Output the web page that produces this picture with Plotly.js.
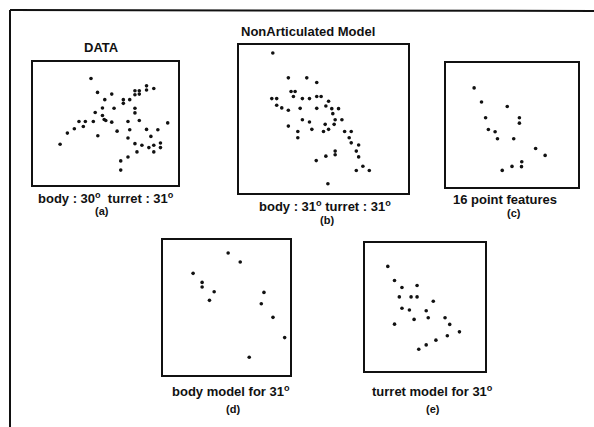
<!DOCTYPE html>
<html>
<head>
<meta charset="utf-8">
<script src="https://cdn.plot.ly/plotly-3.0.1.min.js"></script>
<style>html,body{margin:0;padding:0;background:#fff;}#chart{width:594px;height:427px;}</style>
</head>
<body>
<div id="chart"></div>
<script>
// Panel (a) DATA — positions in box units (0-100)
var aX = [40,44.5,54.3,49.5,62.3,66.7,62.3,70.3,73.3,70.3,73.3,78.3,78.3,83.3,47.9,42.9,55.9,70.3,70.3,47.9,49.1,50.2,31.7,36.1,41.6,54.3,65.5,73.3,92.9,28.5,34.7,23.7,58,66.7,78.3,86.1,44.7,65.5,81.3,18.7,70.3,75.1,79.9,83.3,87.9,87.9,83.3,71.7,65.5,60.5,60.5];
var aY = [86.6,75.3,73.9,69.4,69.4,69.4,66.4,76.6,76.6,73.4,73.9,80.6,77.2,78.5,62.6,58.9,62.4,62.4,58.6,56.5,53.2,52.4,51.6,51.6,51.6,51.1,51.6,52.4,50.5,45.7,47.6,42.2,43.8,44.9,45.2,44.9,40.1,38.2,39.5,33.1,33.6,32.3,30.4,32.3,34.1,30.4,26.9,26.9,22.8,19.6,12.1];
// Panel (b) NonArticulated Model
var bX = [20,29.2,40.1,46,30.8,33.2,32.2,19.4,22.3,37.5,41.7,46,48.6,53,22.3,25.3,29.2,36.2,46,51.4,54.9,58.9,55.5,37.5,41.7,56.9,60.9,56.3,29.2,51,43.1,53,50,34.8,62.5,66.4,34.8,65.2,66.4,70.8,69.4,56.9,56.9,51.4,70.8,45.7,73.3,69.4,77.1,52.6];
var bY = [94.6,77.8,77.8,74.7,68.6,68.6,65.2,63.8,63.8,63.8,63.8,65.2,65.2,62,59.3,57.5,55.9,57.2,57.2,58.8,57,57,53.6,49.5,48,49.5,49.5,46.4,45.2,46.4,43,43,41.6,41.6,41.6,41.6,37.3,37.3,33.9,32.4,28.3,28.3,25.8,24.9,24.4,21.9,18.1,15.2,15.2,6.3];
// Panel (c) 16 point features
var cX = [21.3,26.9,46.4,30,55.6,55.6,32.1,37.2,39,51.3,67.9,75.1,57.4,57.2,50,42.6];
var cY = [79.9,68.6,64.9,55.8,55.8,51.5,46.4,44.5,38.9,38.9,31.1,25.5,20.4,16.4,16.6,13.4];
// Panel (d) body model for 31°
var dX = [51.3,60.8,23.7,30.8,30.8,40.3,36.6,79.5,77.4,86.6,95.8,67.9];
var dY = [90.4,83.7,75.3,68.6,65.2,61.7,55.3,61.2,52.8,42.7,27.7,13.1];
// Panel (e) turret model for 31°
var eX = [19,24.6,30.8,43.4,28.6,38.4,43.4,56.9,30.8,37,51,52.7,40.9,24.6,66.7,70.6,78.7,68.6,59.1,51,44.8];
var eY = [81.7,70.7,65.2,66.8,57.9,57.9,57.9,54.5,49,47.6,47.1,41.6,40.3,36.6,41.6,36.4,30.6,27.5,24.1,20.4,17];

var panelTitles = ['DATA', 'NonArticulated Model', '', '', ''];
var captions = ['body : 30<sup>o</sup>  turret : 31<sup>o</sup>', 'body : 31<sup>o</sup> turret : 31<sup>o</sup>', '16 point features', 'body model for 31<sup>o</sup>', 'turret model for 31<sup>o</sup>'];
var tags = ['(a)', '(b)', '(c)', '(d)', '(e)'];

var W = 594, H = 427;
// box pixel bounds [left, right, top, bottom]
var boxes = [[33,178,62,185],[239,408,45,193],[446,578,63,187],[163,290,240,375],[365,485,243,371]];
var titlePos = [[101,47],[308,32]];
var capPos = [[106,198],[325,206],[505,199],[231,391],[432,391]];
var tagPos = [[102,211],[327,220],[514,213],[233,409],[433,409]];

var xs = [aX,bX,cX,dX,eX], ys = [aY,bY,cY,dY,eY];
var data = [];
var layout = {
  width: W, height: H, margin:{l:0,r:0,t:0,b:0},
  paper_bgcolor:'#fff', plot_bgcolor:'rgba(0,0,0,0)', showlegend:false,
  annotations: [], shapes: [
    {type:'line', xref:'paper', yref:'paper', x0:10/W, x1:1, y0:1-10/H, y1:1-11/H, line:{color:'#111', width:2}},
    {type:'line', xref:'paper', yref:'paper', x0:10/W, x1:10/W, y0:1-10/H, y1:0, line:{color:'#111', width:2}}
  ]
};
var font = {family:'Liberation Sans, Arial, sans-serif', size:13, color:'#111', weight:'bold'};
for (var i=0;i<5;i++){
  var suf = i===0 ? '' : String(i+1);
  data.push({x: xs[i], y: ys[i], type:'scatter', mode:'markers', xaxis:'x'+suf, yaxis:'y'+suf,
    marker:{color:'#111', size:3.6}, hoverinfo:'skip'});
  var b = boxes[i];
  var ax = {domain:[b[0]/W, b[1]/W], range:[0,100], showline:true, mirror:true, linewidth:2, linecolor:'#111',
    showgrid:false, zeroline:false, showticklabels:false, ticks:'', fixedrange:true};
  var ay = {domain:[1-b[3]/H, 1-b[2]/H], range:[0,100], showline:true, mirror:true, linewidth:2, linecolor:'#111',
    showgrid:false, zeroline:false, showticklabels:false, ticks:'', fixedrange:true};
  if (i>0){ ax.anchor = 'y'+suf; ay.anchor = 'x'+suf; }
  layout['xaxis'+suf] = ax; layout['yaxis'+suf] = ay;
  if (panelTitles[i]) layout.annotations.push({text:panelTitles[i], xref:'paper', yref:'paper', x:titlePos[i][0]/W, y:1-titlePos[i][1]/H, xanchor:'center', yanchor:'middle', showarrow:false, font:font});
  layout.annotations.push({text:captions[i], xref:'paper', yref:'paper', x:capPos[i][0]/W, y:1-capPos[i][1]/H, xanchor:'center', yanchor:'middle', showarrow:false, font:font});
  layout.annotations.push({text:tags[i], xref:'paper', yref:'paper', x:tagPos[i][0]/W, y:1-tagPos[i][1]/H, xanchor:'center', yanchor:'middle', showarrow:false, font:{family:font.family, size:11, color:'#111', weight:'bold'}});
}
Plotly.newPlot('chart', data, layout, {displayModeBar:false, responsive:false});
</script>
</body>
</html>
